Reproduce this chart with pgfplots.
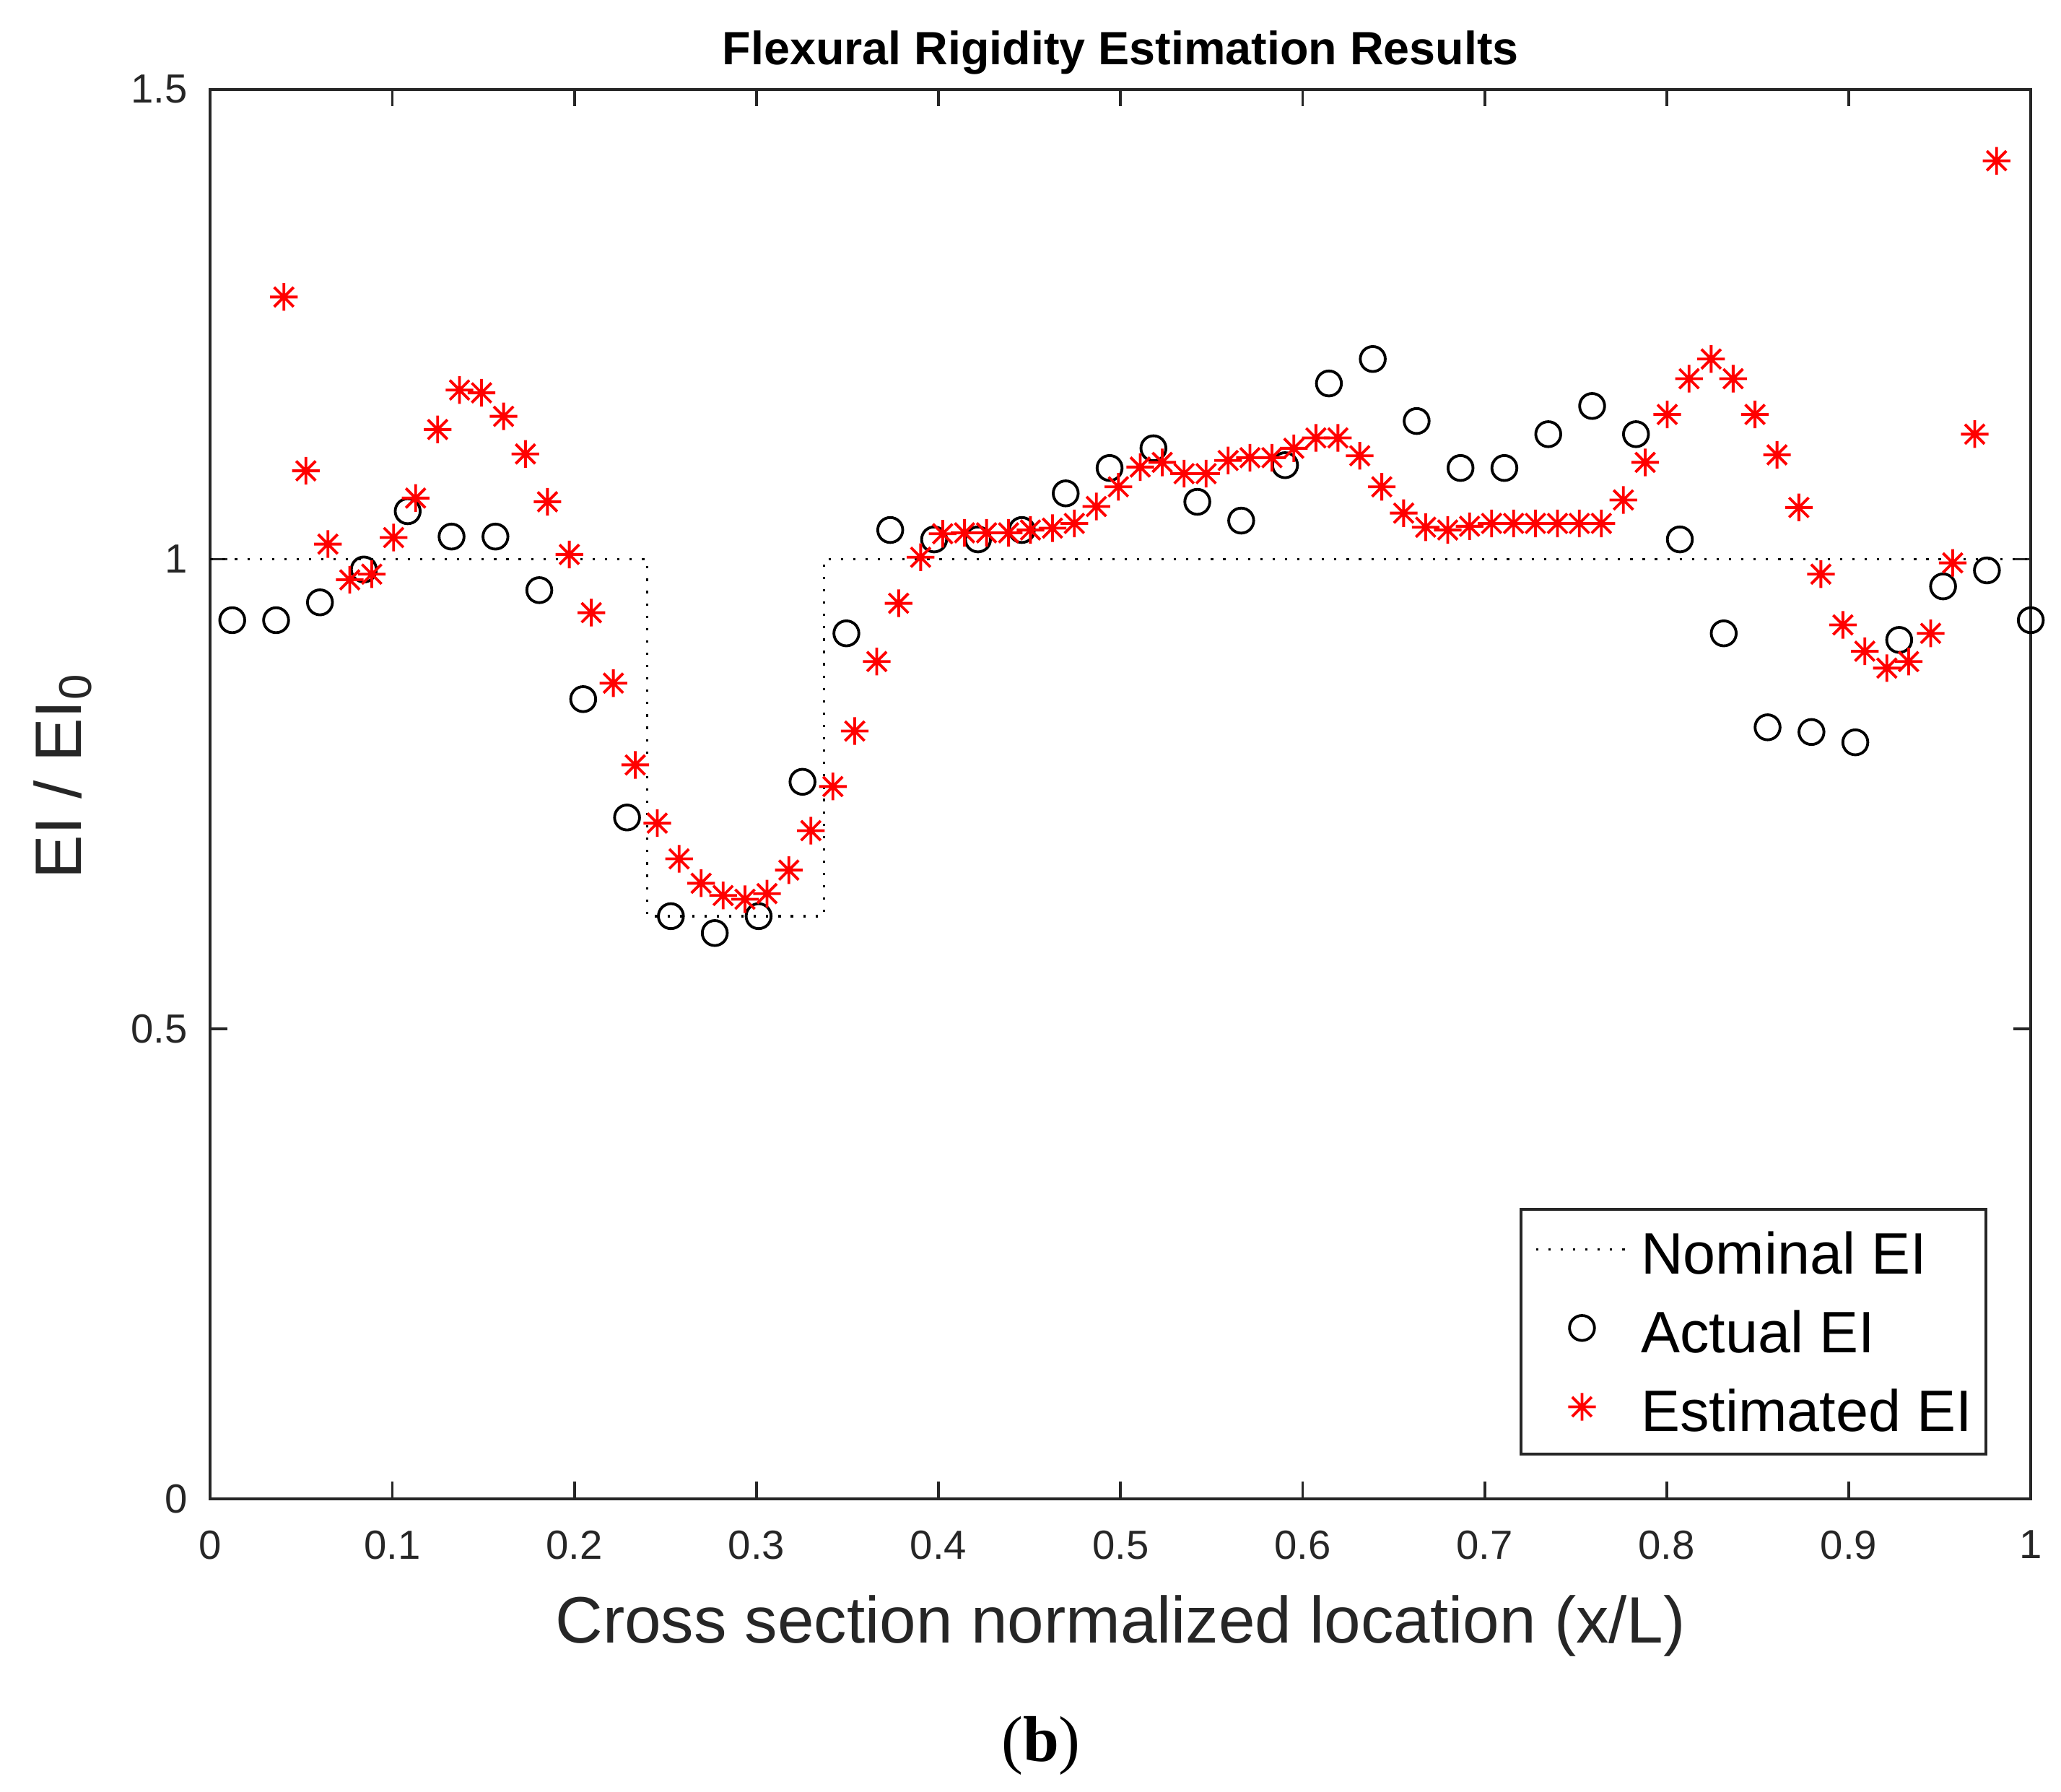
\documentclass[border=0pt]{standalone}
\usepackage{fontspec}
\setmainfont{Liberation Sans}
\newfontfamily\seriffont{Liberation Serif}
\usepackage{pgfplots}
\pgfplotsset{compat=1.18}

\pgfdeclareplotmark{mstar}{%
  \pgfpathmoveto{\pgfqpoint{-\pgfplotmarksize}{0pt}}\pgfpathlineto{\pgfqpoint{\pgfplotmarksize}{0pt}}%
  \pgfpathmoveto{\pgfqpoint{0pt}{-\pgfplotmarksize}}\pgfpathlineto{\pgfqpoint{0pt}{\pgfplotmarksize}}%
  \pgfpathmoveto{\pgfqpoint{-0.7071\pgfplotmarksize}{-0.7071\pgfplotmarksize}}\pgfpathlineto{\pgfqpoint{0.7071\pgfplotmarksize}{0.7071\pgfplotmarksize}}%
  \pgfpathmoveto{\pgfqpoint{-0.7071\pgfplotmarksize}{0.7071\pgfplotmarksize}}\pgfpathlineto{\pgfqpoint{0.7071\pgfplotmarksize}{-0.7071\pgfplotmarksize}}%
  \pgfusepathqstroke}

\definecolor{axgray}{RGB}{38,38,38}

\pgfplotstableread{
x y
0.01205 0.935
0.03614 0.935
0.06024 0.954
0.08434 0.989
0.10843 1.051
0.13253 1.024
0.15663 1.024
0.18072 0.967
0.20482 0.851
0.22892 0.725
0.25301 0.620
0.27711 0.602
0.30120 0.620
0.32530 0.763
0.34940 0.921
0.37349 1.031
0.39759 1.021
0.42169 1.021
0.44578 1.031
0.46988 1.070
0.49398 1.097
0.51807 1.118
0.54217 1.061
0.56627 1.041
0.59036 1.100
0.61446 1.187
0.63855 1.213
0.66265 1.147
0.68675 1.097
0.71084 1.097
0.73494 1.133
0.75904 1.163
0.78313 1.133
0.80723 1.021
0.83133 0.921
0.85542 0.821
0.87952 0.816
0.90361 0.805
0.92771 0.914
0.95181 0.971
0.97590 0.988
1.00000 0.935
}\actual

\pgfplotstableread{
x y
0.0404 1.279
0.0525 1.094
0.0646 1.016
0.0766 0.978
0.0887 0.984
0.1007 1.023
0.1128 1.065
0.1249 1.138
0.1369 1.180
0.1490 1.177
0.1611 1.152
0.1731 1.112
0.1852 1.061
0.1972 1.005
0.2093 0.943
0.2214 0.868
0.2334 0.781
0.2455 0.719
0.2575 0.681
0.2696 0.655
0.2817 0.642
0.2937 0.638
0.3058 0.644
0.3178 0.669
0.3299 0.711
0.3420 0.758
0.3540 0.817
0.3661 0.891
0.3781 0.953
0.3902 1.002
0.4023 1.027
0.4143 1.028
0.4264 1.028
0.4385 1.028
0.4505 1.031
0.4626 1.033
0.4746 1.038
0.4867 1.056
0.4988 1.077
0.5108 1.098
0.5229 1.103
0.5349 1.091
0.5470 1.091
0.5591 1.105
0.5711 1.108
0.5832 1.108
0.5952 1.118
0.6073 1.129
0.6194 1.129
0.6314 1.110
0.6435 1.077
0.6555 1.049
0.6676 1.034
0.6797 1.031
0.6917 1.035
0.7038 1.038
0.7159 1.038
0.7279 1.038
0.7400 1.038
0.7520 1.038
0.7641 1.038
0.7762 1.063
0.7882 1.103
0.8003 1.154
0.8123 1.192
0.8244 1.213
0.8365 1.192
0.8485 1.154
0.8606 1.111
0.8726 1.055
0.8847 0.984
0.8968 0.930
0.9088 0.902
0.9209 0.884
0.9329 0.891
0.9450 0.921
0.9571 0.996
0.9692 1.133
0.9812 1.424
}\estimated

\begin{document}
\begin{tikzpicture}
\begin{axis}[
  scale only axis,
  width=138.5mm, height=107.2mm,
  xmin=0, xmax=1, ymin=0, ymax=1.5,
  xtick={0,0.1,0.2,0.3,0.4,0.5,0.6,0.7,0.8,0.9,1},
  ytick={0,0.5,1,1.5},
  tick align=inside,
  major tick length=1.3mm,
  axis line style={axgray, line width=0.65pt},
  every tick/.style={axgray, line width=0.6pt},
  tick label style={font=\fontsize{8.8}{10}\selectfont, color=axgray},
  /pgf/number format/assume math mode=true,
  every x tick label/.append style={yshift=-1.2mm},
  every y tick label/.append style={xshift=-0.5mm},
  clip=false,
  title={Flexural Rigidity Estimation Results},
  every axis title/.style={at={(rel axis cs:0.5,1)}, anchor=base, yshift=1.9mm,
    font=\fontsize{10.1}{12}\selectfont\bfseries, color=black},
  xlabel={Cross section normalized location (x/L)},
  ylabel={EI / EI\textsubscript{0}},
  every axis x label/.style={at={(rel axis cs:0.5,-0.1026)}, anchor=base,
    font=\fontsize{14.2}{16}\selectfont, color=axgray},
  every axis y label/.style={at={(rel axis cs:-0.0708,0.513)}, anchor=base, rotate=90,
    font=\fontsize{14.2}{16}\selectfont, color=axgray},
  legend cell align=left,
  legend style={at={(rel axis cs:0.9762,0.0308)}, anchor=south east,
    draw=axgray, line width=0.6pt, fill=white,
    font=\fontsize{12.65}{15}\selectfont,
    inner xsep=1.05mm, inner ysep=4.85pt,
    row sep=8pt, column sep=0.9mm,
    nodes={inner sep=0pt, text height=9.06pt, text depth=0pt}},
]
\addplot[black, line width=0.5pt, dash pattern=on 0.5pt off 2.17pt,
  legend image code/.code={\draw[black, line width=0.5pt, dash pattern=on 0.5pt off 2.17pt] (0mm,0.8pt) -- (7mm,0.8pt);}]
  coordinates {(0,1) (0.240,1) (0.240,0.62) (0.337,0.62) (0.337,1) (1,1)};
\addlegendentry{Nominal EI}

\addplot[only marks, mark=o, mark size=0.95mm, black, line width=0.6pt,
  legend image code/.code={\path[draw=none, fill=none] (0mm,0.8pt) -- (7mm,0.8pt);
    \path[draw=none, fill=none] plot[mark=o, mark size=0.95mm, only marks, mark options={draw=black, line width=0.6pt}] coordinates {(3.5mm,0.8pt)};}]
  table[x=x, y=y] {\actual};
\addlegendentry{Actual EI}

\addplot[only marks, mark=mstar, mark size=1.05mm, red, line width=0.6pt,
  legend image code/.code={\path[draw=none, fill=none] (0mm,0.8pt) -- (7mm,0.8pt);
    \path[draw=none, fill=none] plot[mark=mstar, mark size=1.05mm, only marks, mark options={draw=red, line width=0.6pt}] coordinates {(3.5mm,0.8pt)};}]
  table[x=x, y=y] {\estimated};
\addlegendentry{Estimated EI}

\coordinate (bl) at (rel axis cs:0,0);
\coordinate (tr) at (rel axis cs:1,1);
\node[font=\seriffont\fontsize{14}{16}\selectfont, anchor=base, color=black]
  at (rel axis cs:0.4563,-0.1866) {(\textbf{b})};
\end{axis}
\pgfresetboundingbox
\path ([xshift=-16mm,yshift=-22.3mm]bl) rectangle ([xshift=2.3mm,yshift=6.8mm]tr);
\end{tikzpicture}
\end{document}
